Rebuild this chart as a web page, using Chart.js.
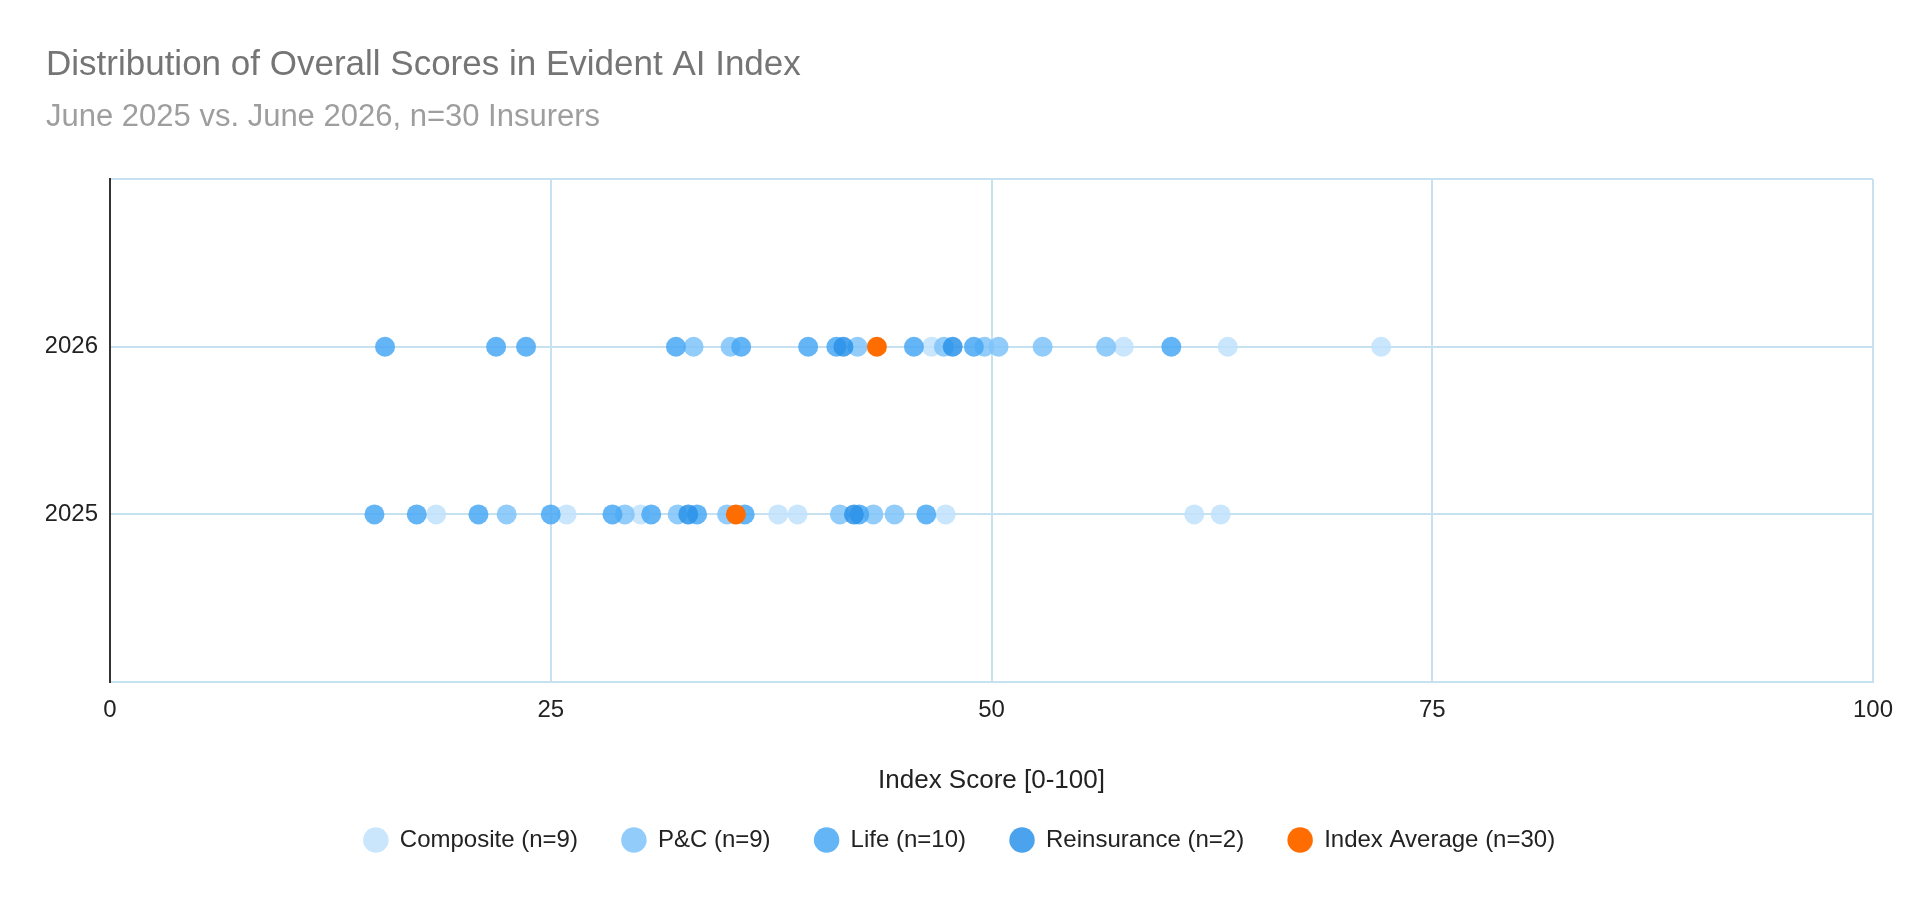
<!DOCTYPE html>
<html>
<head>
<meta charset="utf-8">
<style>
  html, body { margin: 0; padding: 0; background: #fff; }
  #wrap { width: 1920px; height: 899px; }
</style>
<script src="https://cdn.jsdelivr.net/npm/chart.js@4"></script>
</head>
<body>
<div id="wrap"><canvas id="myChart"></canvas></div>
<script>
const FONT = "'Liberation Sans', Arial, sans-serif";

// scores, per segment and year
const composite2025 = [18.5, 25.9, 30.1, 37.9, 39.0, 47.4, 61.5, 63.0];
const composite2026 = [46.6, 57.5, 63.4, 72.1];
const pc2025 = [22.5, 29.2, 32.2, 35.0, 41.4, 43.3, 44.5];
const pc2026 = [33.1, 35.2, 42.4, 47.3, 49.6, 50.4, 52.9, 56.5];
const life2025 = [15.0, 17.4, 20.9, 25.0, 28.5, 30.7, 33.3, 36.0, 42.5, 46.3];
const life2026 = [15.6, 21.9, 23.6, 32.1, 35.8, 39.6, 41.2, 45.6, 49.0, 60.2];
const reins2025 = [32.8, 42.2];
const reins2026 = [41.6, 47.8];
const avg2025 = [35.5];
const avg2026 = [43.5];

const years = [2025, 2026];
const yearLabels = ["2025", "2026"];
const xTicks = [0, 25, 50, 75, 100];
const seriesNames = [
  "Composite (n=9)",
  "P&C (n=9)",
  "Life (n=10)",
  "Reinsurance (n=2)",
  "Index Average (n=30)",
];

function pts(a2025, a2026) {
  return a2025.map((v) => ({ x: v, y: years[0] }))
    .concat(a2026.map((v) => ({ x: v, y: years[1] })));
}

const gridBlue = "#c6e2f1";

new Chart(document.getElementById("myChart"), {
  type: "scatter",
  data: {
    datasets: [
      {
        label: seriesNames[0],
        data: pts(composite2025, composite2026),
        backgroundColor: "rgba(191,226,251,0.85)",
        order: 4,
      },
      {
        label: seriesNames[1],
        data: pts(pc2025, pc2026),
        backgroundColor: "rgba(127,195,249,0.85)",
        order: 3,
      },
      {
        label: seriesNames[2],
        data: pts(life2025, life2026),
        backgroundColor: "rgba(73,168,244,0.85)",
        order: 2,
      },
      {
        label: seriesNames[3],
        data: pts(reins2025, reins2026),
        backgroundColor: "rgba(42,147,233,0.85)",
        order: 1,
      },
      {
        label: seriesNames[4],
        data: pts(avg2025, avg2026),
        backgroundColor: "#ff6d00",
        order: 0,
      },
    ],
  },
  options: {
    responsive: true,
    maintainAspectRatio: false,
    animation: false,
    layout: { padding: { top: 20, left: 46, right: 47, bottom: 37 } },
    elements: {
      point: { radius: 10, hoverRadius: 10, borderWidth: 0, pointStyle: "circle" },
    },
    plugins: {
      title: {
        display: true,
        text: "Distribution of Overall Scores in Evident AI Index",
        align: "start",
        color: "#757575",
        font: { family: FONT, size: 35, weight: "normal", lineHeight: 1.2 },
        padding: { top: 24, bottom: 0 },
      },
      subtitle: {
        display: true,
        text: "June 2025 vs. June 2026, n=30 Insurers",
        align: "start",
        color: "#9e9e9e",
        font: { family: FONT, size: 31, weight: "normal", lineHeight: 1.2 },
        padding: { top: 13, bottom: 43 },
      },
      legend: {
        position: "bottom",
        labels: {
          usePointStyle: true,
          pointStyle: "circle",
          boxWidth: 24,
          boxHeight: 18,
          padding: 44,
          color: "#222",
          font: { family: FONT, size: 24 },
          sort: (a, b) => a.datasetIndex - b.datasetIndex,
        },
      },
      tooltip: { enabled: false },
    },
    scales: {
      x: {
        type: "linear",
        min: 0,
        max: 100,
        afterBuildTicks: (scale) => {
          scale.ticks = xTicks.map((v) => ({ value: v }));
        },
        afterFit: (scale) => {
          scale.height = 102;
        },
        grid: {
          color: (c) => (c.tick && c.tick.value === 0 ? "rgba(0,0,0,0)" : gridBlue),
          lineWidth: 2,
          drawTicks: false,
        },
        border: { display: true, color: gridBlue, width: 2 },
        ticks: {
          color: "#222",
          padding: 14,
          font: { family: FONT, size: 24 },
        },
        title: {
          display: true,
          text: "Index Score [0-100]",
          color: "#222",
          font: { family: FONT, size: 26 },
          padding: { top: 0, bottom: -12 },
        },
      },
      y: {
        type: "linear",
        min: 2024,
        max: 2027,
        afterBuildTicks: (scale) => {
          scale.ticks = [2024, 2025, 2026, 2027].map((v) => ({ value: v }));
        },
        afterFit: (scale) => {
          scale.width = 64;
        },
        grid: { color: gridBlue, lineWidth: 2, drawTicks: false },
        border: { display: true, color: "#333", width: 2 },
        ticks: {
          color: "#222",
          padding: 12,
          font: { family: FONT, size: 24 },
          callback: (v) => {
            const i = years.indexOf(v);
            return i >= 0 ? yearLabels[i] : "";
          },
        },
      },
    },
  },
});
</script>
</body>
</html>
